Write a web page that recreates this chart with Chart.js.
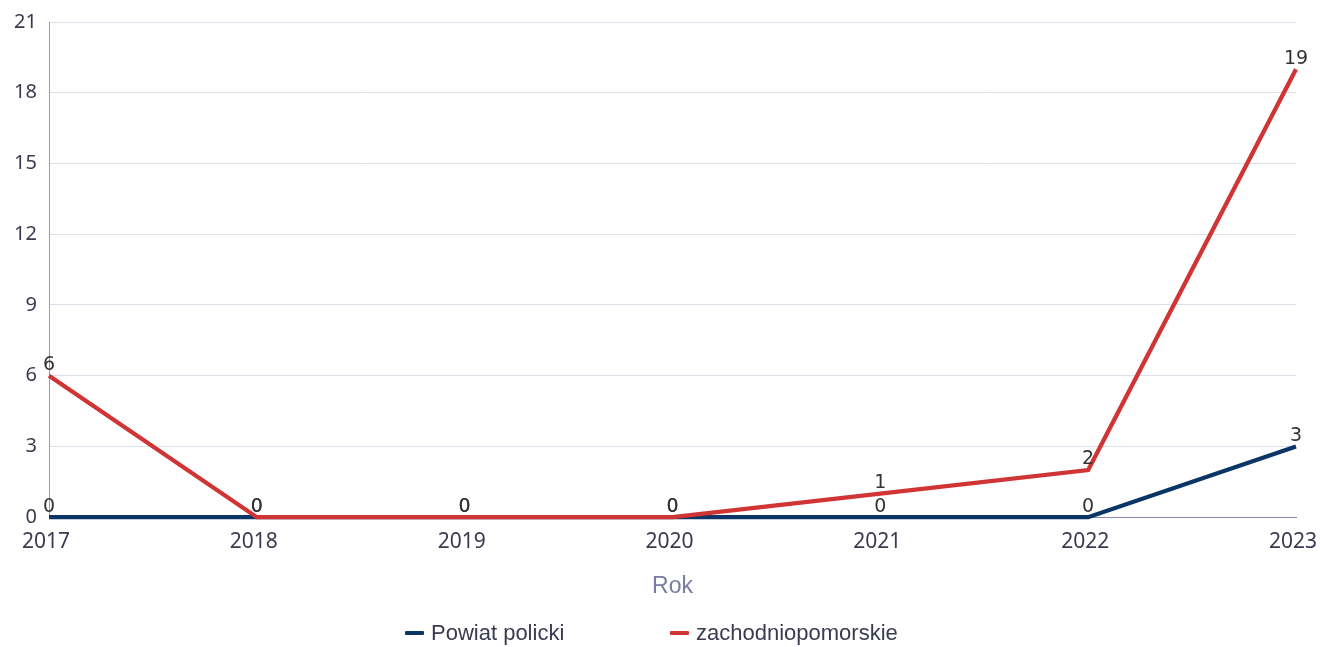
<!DOCTYPE html>
<html>
<head>
<meta charset="utf-8">
<script src="https://cdn.jsdelivr.net/npm/chart.js@4/dist/chart.umd.min.js"></script>
<style>
html,body{margin:0;padding:0;background:#fff;}
#wrap{width:1320px;height:647px;position:relative;}
#c{position:absolute;left:0;top:0;}
.lg{position:absolute;top:620px;height:26px;display:flex;align-items:center;font-family:"Liberation Sans",Arial,sans-serif;font-size:22px;color:#3a3a52;white-space:nowrap;}
.lg i{display:inline-block;width:19px;height:4px;margin-right:7px;border-radius:1px;}
</style>
</head>
<body>
<div id="wrap">
<canvas id="c" width="1320" height="647"></canvas>
<div class="lg" id="lg0" style="left:405px"><i></i><span></span></div>
<div class="lg" id="lg1" style="left:670px"><i></i><span></span></div>
</div>
<script>
const years = ["2017","2018","2019","2020","2021","2022","2023"];
const powiatPolicki = [0,0,0,0,0,0,3];
const zachodniopomorskie = [6,0,0,0,1,2,19];
const yTicks = [0,3,6,9,12,15,18,21];
const seriesNames = ["Powiat policki","zachodniopomorskie"];
const seriesColors = ["#0b3566","#d03434"];

const labelPlugin = {
  id:'valueLabels',
  afterDatasetsDraw(chart){
    const ctx = chart.ctx;
    ctx.save();
    ctx.font = '19px "DejaVu Sans"';
    ctx.fillStyle = '#333333';
    ctx.textAlign = 'center';
    ctx.textBaseline = 'bottom';
    chart.data.datasets.forEach((ds,i)=>{
      const meta = chart.getDatasetMeta(i);
      meta.data.forEach((pt,j)=>{
        ctx.fillText(String(ds.data[j]), pt.x, pt.y - 1);
      });
    });
    ctx.restore();
  }
};

const chart = new Chart(document.getElementById('c'), {
  type:'line',
  data:{
    labels: years,
    datasets:[
      {label:seriesNames[0], data:powiatPolicki, borderColor:seriesColors[0], backgroundColor:seriesColors[0], borderWidth:4.3, pointRadius:0, tension:0, order:1, clip:false},
      {label:seriesNames[1], data:zachodniopomorskie, borderColor:seriesColors[1], backgroundColor:seriesColors[1], borderWidth:4.3, pointRadius:0, tension:0, order:0, clip:false}
    ]
  },
  options:{
    responsive:false,
    animation:false,
    layout:{padding:{left:0,right:24,top:22,bottom:47}},
    plugins:{
      legend:{display:false},
      tooltip:{enabled:false}
    },
    scales:{
      x:{
        offset:false,
        afterFit(axis){ axis.paddingLeft = 0; axis.paddingRight = 0; },
        grid:{display:false, drawTicks:false},
        border:{display:true, color:'#8a8aae', width:1},
        ticks:{color:'#3a3a52', font:{family:'"Noto Sans"', size:21}, padding:12, labelOffset:-3, maxRotation:0, autoSkip:false},
        title:{display:true, text:'Rok', color:'#7a7aa2', font:{family:'"Liberation Sans"', size:23}, padding:{top:6,bottom:0}}
      },
      y:{
        min:0, max:21,
        afterBuildTicks(axis){ axis.ticks = yTicks.map(v=>({value:v})); },
        afterFit(axis){ axis.width = 49; axis.paddingTop = 0; axis.paddingBottom = 0; },
        grid:{color:'#dedeea', drawTicks:false},
        border:{display:true, color:'#9a9ab4', width:1},
        ticks:{color:'#3a3a52', font:{family:'"Noto Sans"', size:20}, padding:12}
      }
    }
  },
  plugins:[labelPlugin]
});

[0,1].forEach(i=>{
  const el = document.getElementById('lg'+i);
  el.querySelector('i').style.background = seriesColors[i];
  el.querySelector('span').textContent = seriesNames[i];
});
</script>
</body>
</html>
